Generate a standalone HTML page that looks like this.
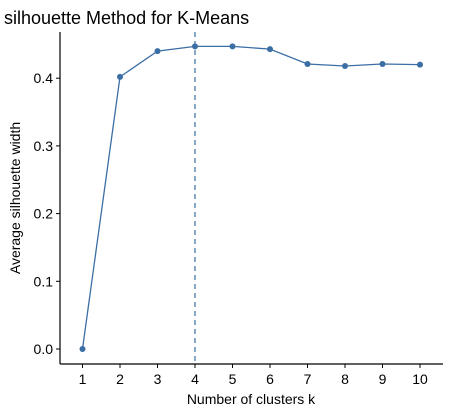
<!DOCTYPE html>
<html><head><style>
body{margin:0;background:#fff;font-family:"Liberation Sans",Arial,sans-serif}
svg text{font-family:"Liberation Sans",Arial,sans-serif}
</style></head><body>
<svg id="c" width="451" height="411" xmlns="http://www.w3.org/2000/svg">
<text x="4" y="24" font-size="18" fill="#000">silhouette Method for K-Means</text>
<g id="plot"></g>
<text x="251" y="404" font-size="14" text-anchor="middle">Number of clusters k</text>
<text transform="translate(20,198) rotate(-90)" font-size="14" text-anchor="middle">Average silhouette width</text>
</svg>
<script>
const categories=[1,2,3,4,5,6,7,8,9,10];
const values=[0,0.402,0.440,0.447,0.447,0.443,0.421,0.418,0.421,0.420];
const yTicks=[0.0,0.1,0.2,0.3,0.4];
const optimalK=4;
const NS="http://www.w3.org/2000/svg";
const g=document.getElementById('plot');
const xs=k=>82.5+(k-1)*37.5;
const ys=v=>349-v*677;
function mk(t,a){const e=document.createElementNS(NS,t);for(const k in a)e.setAttribute(k,a[k]);g.appendChild(e);return e;}
let e;
e=mk('line',{x1:60,y1:32,x2:60,y2:364,stroke:'#000','stroke-width':1.2});


e=mk('line',{x1:60,y1:364,x2:443,y2:364,stroke:'#000','stroke-width':1.2});


yTicks.forEach(v=>{
 e=mk('line',{x1:56,x2:60,y1:ys(v),y2:ys(v),stroke:'#000'});
 
 
 e=mk('text',{x:53,y:ys(v)+5,'font-size':14,'text-anchor':'end',fill:'#000'});
 e.textContent=v.toFixed(1);
 
 
});
categories.forEach(k=>{
 e=mk('line',{x1:xs(k),x2:xs(k),y1:364,y2:368,stroke:'#000'});
 
 
 e=mk('text',{x:xs(k),y:384,'font-size':14,'text-anchor':'middle',fill:'#000'});
 e.textContent=k;
 
 
});
e=mk('line',{x1:xs(optimalK),x2:xs(optimalK),y1:32,y2:364,stroke:'#3a6ea5','stroke-dasharray':'5,4','stroke-width':1.2});


e=mk('polyline',{points:categories.map((k,i)=>xs(k)+','+ys(values[i])).join(' '),fill:'none',stroke:'#3a6ea5','stroke-width':1.3});


categories.forEach((k,i)=>{
 e=mk('circle',{cx:xs(k),cy:ys(values[i]),r:3,fill:'#3a6ea5'});
 
 
});
</script>
</body></html>
